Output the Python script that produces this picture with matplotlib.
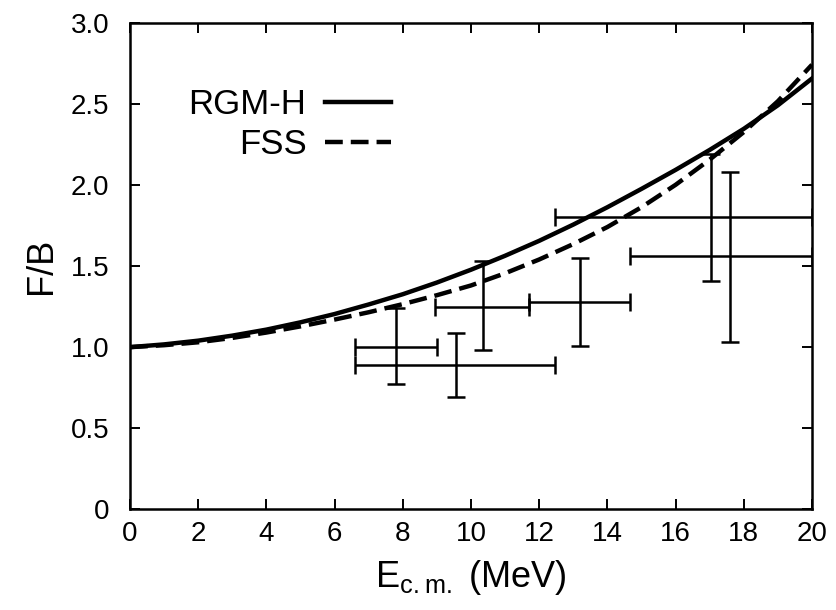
import matplotlib.pyplot as plt
import numpy as np

# curves (E_cm in MeV, ratio F/B)
energy = np.arange(0, 21, 1)
rgm_h = [1.000, 1.017, 1.040, 1.071, 1.108, 1.153, 1.204, 1.263, 1.326, 1.398,
         1.477, 1.563, 1.655, 1.755, 1.862, 1.975, 2.092, 2.215, 2.345, 2.490, 2.655]
fss = [1.000, 1.012, 1.030, 1.057, 1.090, 1.128, 1.170, 1.215, 1.265, 1.320,
       1.380, 1.455, 1.540, 1.635, 1.740, 1.862, 2.000, 2.155, 2.325, 2.515, 2.740]

# experimental points with asymmetric errors
exp_x = [7.80, 9.55, 10.35, 13.20, 17.03, 17.60]
exp_y = [1.00, 0.89, 1.25, 1.28, 1.80, 1.56]
exp_x_lo = [6.60, 6.60, 8.95, 11.70, 12.45, 14.65]
exp_x_hi = [9.00, 12.45, 11.70, 14.65, 20.00, 20.00]
exp_y_lo = [0.77, 0.69, 0.98, 1.01, 1.41, 1.03]
exp_y_hi = [1.24, 1.09, 1.53, 1.55, 2.19, 2.08]

xticks = list(range(0, 21, 2))
yticks = [0, 0.5, 1.0, 1.5, 2.0, 2.5, 3.0]
ytick_labels = ['0', '0.5', '1.0', '1.5', '2.0', '2.5', '3.0']

plt.rcParams['font.family'] = ['Liberation Sans', 'DejaVu Sans']
plt.rcParams['mathtext.fontset'] = 'custom'
plt.rcParams['mathtext.rm'] = 'Liberation Sans'

fig = plt.figure(figsize=(8.37, 6.10), dpi=100)
ax = fig.add_axes([0.1553, 0.1648, 0.8148, 0.7983])

ax.plot(energy, rgm_h, color='black', lw=3.2, label='RGM-H')
ax.plot(energy, fss, color='black', lw=3.2, dashes=(4, 1.8), label='FSS')

x = np.array(exp_x)
y = np.array(exp_y)
xerr = [x - np.array(exp_x_lo), np.array(exp_x_hi) - x]
yerr = [y - np.array(exp_y_lo), np.array(exp_y_hi) - y]
ax.errorbar(x, y, xerr=xerr, yerr=yerr, fmt='none', ecolor='black',
            elinewidth=1.8, capsize=6.5, capthick=1.8)

ax.set_xlim(0, 20)
ax.set_ylim(0, 3.0)
ax.set_xticks(xticks)
ax.set_yticks(yticks)
ax.set_yticklabels(ytick_labels)
ax.tick_params(direction='in', length=7, width=1.4, top=True, right=True,
               labelsize=20)
ax.tick_params(axis='y', pad=15)
ax.tick_params(axis='x', pad=8)
for s in ax.spines.values():
    s.set_linewidth(1.8)

ax.set_xlabel(r'$\mathregular{E_{c.m.}}$ (MeV)', fontsize=26, labelpad=8)
ax.set_ylabel('F/B', fontsize=26, labelpad=8)

ax.legend(loc='upper left', bbox_to_anchor=(0.04, 0.93), frameon=False,
          markerfirst=False, fontsize=25, handlelength=1.9, handletextpad=0.55,
          labelspacing=0.2)

fig.savefig('out.png', dpi=100)
